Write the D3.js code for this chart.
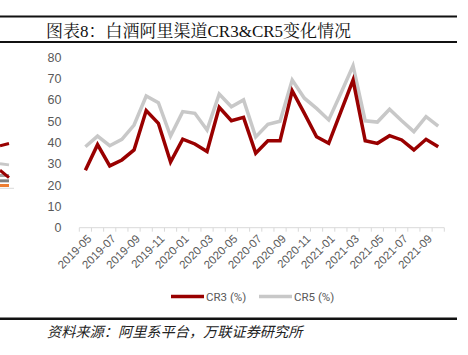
<!DOCTYPE html>
<html><head><meta charset="utf-8">
<script src="https://cdn.jsdelivr.net/npm/d3@7"></script>
<style>
html,body{margin:0;padding:0;background:#fff;}
svg{display:block;}
</style></head>
<body>
<script>
const months = ["2019-05","2019-06","2019-07","2019-08","2019-09","2019-10","2019-11","2019-12",
"2020-01","2020-02","2020-03","2020-04","2020-05","2020-06","2020-07","2020-08","2020-09","2020-10","2020-11","2020-12",
"2021-01","2021-02","2021-03","2021-04","2021-05","2021-06","2021-07","2021-08","2021-09","2021-10"];
const cr3 = [27,39,29,31.8,36.5,55,49,30.8,41.6,39.3,35.8,56.5,50.2,51.8,35,40.8,40.8,64.3,53.7,42.7,39.6,54.5,69.3,40.8,39.6,43.2,41.2,36.5,41.5,38];
const cr5 = [38,43,38.5,41.5,48.2,61.8,58.7,43,54.5,53.7,45.9,62.8,56.8,60,42.6,48.5,50,69.3,60.8,56,50.6,63.1,76,50.2,49.6,55.6,50.2,45.1,52.1,47.7];
const yTicks = [0,10,20,30,40,50,60,70,80];
const seriesNames = ["CR3 (%)","CR5 (%)"];
const titleText = "图表8：白酒阿里渠道CR3&CR5变化情况";
const sourceText = "资料来源：阿里系平台，万联证券研究所";
// fragment of neighbouring chart visible at the left edge
const fragX = [0,1];
const fragRed1 = [38.5,39.5];
const fragGray1 = [30,29.5];
const fragRed2 = [27,23.5];
const fragGray2 = [24.5,24.5];
const fragDark = [22,22];
const fragOrange = [19.8,19.8];

const W = 468, H = 355;
const svg = d3.select("body").append("svg").attr("width", W).attr("height", H);

const colRed = "#990000", colGray = "#c8c8c8", txt = "#595959";

// header rules
svg.append("rect").attr("x",0).attr("y",15.5).attr("width",457).attr("height",2).attr("fill","#111");
svg.append("rect").attr("x",0).attr("y",41).attr("width",457).attr("height",2).attr("fill","#111");
svg.append("text").attr("x",46).attr("y",37).attr("font-size",17)
  .attr("font-family","'Liberation Serif','Noto Serif CJK SC','Noto Sans CJK SC',serif")
  .attr("fill","#111").text(titleText);

// footer
svg.append("rect").attr("x",0).attr("y",317.5).attr("width",457).attr("height",2.5).attr("fill","#111");
svg.append("text").attr("x",47).attr("y",337).attr("font-size",14.2)
  .attr("font-family","'Noto Sans CJK SC',sans-serif").attr("font-style","italic")
  .attr("fill","#222").text(sourceText);

const x = d3.scaleBand().domain(months).range([79.3, 444.3]);
const y = d3.scaleLinear().domain([0,80]).range([227.7, 57.3]);

// y labels
svg.append("g").selectAll("text").data(yTicks).join("text")
  .attr("x",61.5).attr("y",d=>y(d)).attr("dy","0.36em").attr("text-anchor","end")
  .attr("font-size",12.5).attr("font-family","'Liberation Sans',Arial,sans-serif").attr("fill",txt)
  .text(d=>d);

// x axis
const ax = svg.append("g").attr("transform",`translate(0,${y(0)})`);
ax.append("line").attr("x1",x.range()[0]).attr("x2",x.range()[1]).attr("stroke","#d9d9d9").attr("stroke-width",1);
const bounds = months.map(m=>x(m)).concat([x.range()[1]]);
ax.selectAll("line.tk").data(bounds).join("line").attr("class","tk")
  .attr("x1",d=>d).attr("x2",d=>d).attr("y1",0).attr("y2",4).attr("stroke","#d9d9d9");
ax.selectAll("text").data(months.filter((m,i)=>i%2===0)).join("text")
  .attr("transform",d=>`translate(${x(d)+x.bandwidth()/2+4},${9}) rotate(-45)`)
  .attr("text-anchor","end").attr("dy","0.35em")
  .attr("font-size",11.5).attr("font-family","'Liberation Sans',Arial,sans-serif").attr("fill",txt)
  .text(d=>d);

const line = d3.line().x((d,i)=>x(months[i])+x.bandwidth()/2).y(d=>y(d));
svg.append("path").datum(cr5).attr("d",line).attr("fill","none").attr("stroke",colGray).attr("stroke-width",3.5).attr("stroke-linejoin","miter");
svg.append("path").datum(cr3).attr("d",line).attr("fill","none").attr("stroke",colRed).attr("stroke-width",3.5).attr("stroke-linejoin","miter");

// left fragment
const fx = d3.scaleLinear().domain([0,1]).range([0,9]);
const fline = d3.line().x((d,i)=>fx(fragX[i])).y(d=>y(d));
[[fragGray1,"#c8c8c8"],[fragGray2,"#a6a6a6"],[fragDark,"#7f7f7f"],[fragOrange,"#ed7d31"],[fragRed1,colRed],[fragRed2,colRed]].forEach(([d,c])=>{
  svg.append("path").datum(d).attr("d",fline).attr("fill","none").attr("stroke",c).attr("stroke-width",3);
});
svg.append("line").attr("x1",0).attr("x2",14).attr("y1",y(18.5)).attr("y2",y(18.5)).attr("stroke","#d9d9d9");

// legend
const lg = svg.append("g");
const lx = [171, 259];
[[colRed,0],[colGray,1]].forEach(([c,i])=>{
  lg.append("line").attr("x1",lx[i]).attr("x2",lx[i]+33).attr("y1",296.5).attr("y2",296.5).attr("stroke",c).attr("stroke-width",3.5);
  lg.append("text").attr("x",lx[i]+35).attr("y",296.5).attr("dy","0.36em")
    .attr("font-size",11.5).attr("font-family","'Roboto','Liberation Sans',sans-serif").attr("fill",txt).text(seriesNames[i]);
});
</script>
</body></html>
